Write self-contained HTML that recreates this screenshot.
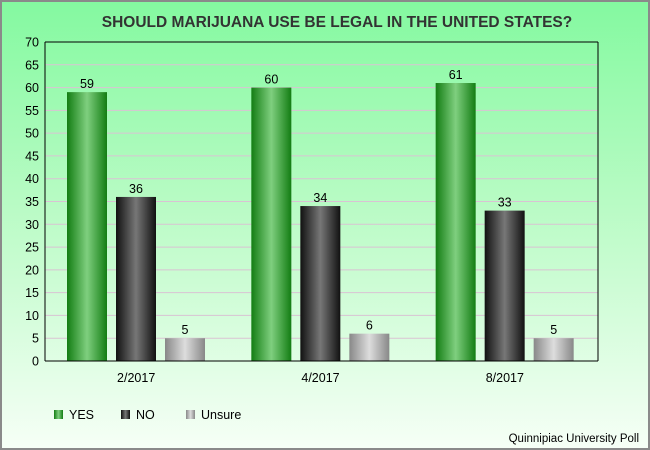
<!DOCTYPE html>
<html><head><meta charset="utf-8"><style>
body{margin:0;width:650px;height:450px;overflow:hidden;font-family:"Liberation Sans","DejaVu Sans",sans-serif;}
#wrap{position:absolute;left:0;top:0;width:646px;height:446px;border:2px solid #8a8a8a;background:linear-gradient(#84f9a0 0%,#b8fbc4 45%,#f6fff6 100%);}
</style></head><body>
<div id="wrap">
<svg id="chart" width="650" height="450" style="position:absolute;left:-2px;top:-2px">
<defs>
<linearGradient id="gY" x1="0" x2="1"><stop offset="0" stop-color="#137d13"/><stop offset="0.5" stop-color="#7fcf7f"/><stop offset="1" stop-color="#137d13"/></linearGradient>
<linearGradient id="gN" x1="0" x2="1"><stop offset="0" stop-color="#111"/><stop offset="0.5" stop-color="#777"/><stop offset="1" stop-color="#111"/></linearGradient>
<linearGradient id="gU" x1="0" x2="1"><stop offset="0" stop-color="#888"/><stop offset="0.5" stop-color="#ddd"/><stop offset="1" stop-color="#888"/></linearGradient>
</defs>
<text x="337" y="27" text-anchor="middle" font-size="15.5" font-weight="bold" fill="#333">SHOULD MARIJUANA USE BE LEGAL IN THE UNITED STATES?</text>
<g id="grid"></g><g id="bars"></g>
<line x1="45" y1="42" x2="45" y2="361" stroke="#000"/>
<line x1="45" y1="361" x2="598" y2="361" stroke="#000"/>
<line x1="45" y1="42" x2="598" y2="42" stroke="#000"/>
<line x1="598" y1="42" x2="598" y2="361" stroke="#000"/>
<g>
<rect x="54" y="410" width="9" height="9" fill="url(#gY)"/>
<text x="69" y="419" font-size="12.5" fill="#000">YES</text>
<rect x="121" y="410" width="9" height="9" fill="url(#gN)"/>
<text x="136" y="419" font-size="12.5" fill="#000">NO</text>
<rect x="186" y="410" width="9" height="9" fill="url(#gU)"/>
<text x="201" y="419" font-size="12.5" fill="#000">Unsure</text>
</g>
<text x="639" y="442" text-anchor="end" font-size="11.5" fill="#000">Quinnipiac University Poll</text>
</svg></div>
<script>
const categories=["2/2017","4/2017","8/2017"];
const yesVals=[59,60,61];
const noVals=[36,34,33];
const unsureVals=[5,6,5];
const yTicks=[0,5,10,15,20,25,30,35,40,45,50,55,60,65,70];
const NS="http://www.w3.org/2000/svg";
const L=45,R=598,T=42,B=361,yMax=70;
const y=v=>B-(v/yMax)*(B-T);
const gw=(R-L)/categories.length;
const grid=document.getElementById('grid'),bars=document.getElementById('bars');
function mk(tag,attrs,parent){const e=document.createElementNS(NS,tag);for(const k in attrs)e.setAttribute(k,attrs[k]);parent.appendChild(e);return e;}
yTicks.forEach(t=>{
  if(t>0&&t<yMax){const l=mk('line',{x1:L,x2:R,y1:y(t),y2:y(t),stroke:'#d9c3d3'},grid);
  
  }
  const tx=mk('text',{x:L-6,y:y(t)+4.5,'text-anchor':'end','font-size':'12.5',fill:'#000'},grid);
  tx.textContent=t;
  
  
});
const series=[[yesVals,'url(#gY)','yes'],[noVals,'url(#gN)','no'],[unsureVals,'url(#gU)','unsure']];
categories.forEach((c,i)=>{
  const gx=L+gw*i;
  series.forEach((s,j)=>{
    const v=s[0][i],x=gx+22+j*49,w=40;
    const r=mk('rect',{x:x,y:y(v),width:w,height:B-y(v),fill:s[1]},bars);
    
    
    const t=mk('text',{x:x+w/2,y:y(v)-4,'text-anchor':'middle','font-size':'12.5',fill:'#000'},bars);
    t.textContent=v;
    
    
  });
  const xl=mk('text',{x:gx+gw/2-1,y:382,'text-anchor':'middle','font-size':'12.5',fill:'#000'},bars);
  xl.textContent=c;
  
  
});
</script>
</body></html>
